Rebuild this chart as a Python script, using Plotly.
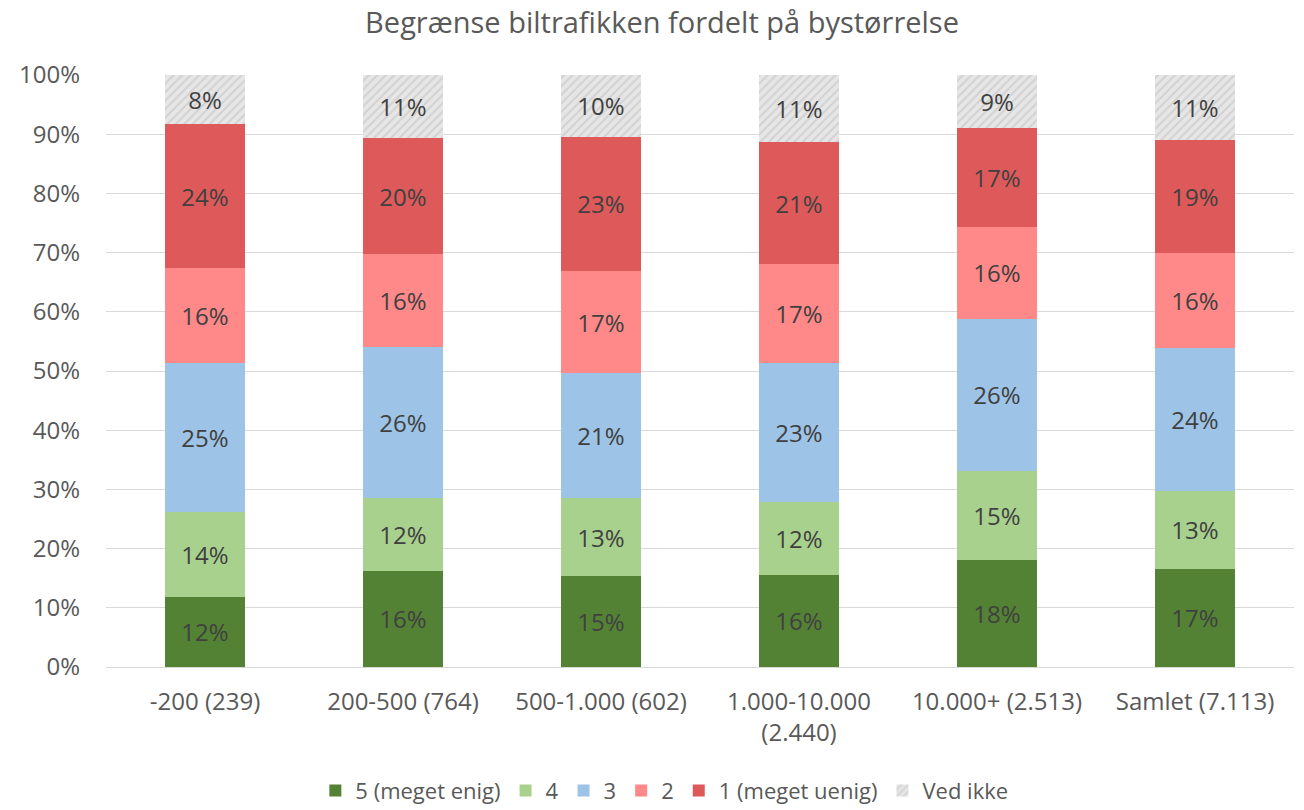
import plotly.graph_objects as go

# Category labels (city size, with respondent counts)
categories = ["-200 (239)", "200-500 (764)", "500-1.000 (602)",
              "1.000-10.000<br>(2.440)", "10.000+ (2.513)", "Samlet (7.113)"]

# Share of respondents per answer, in percent
very_agree = [11.9, 16.3, 15.3, 15.6, 18.0, 16.6]      # 5 (meget enig)
agree = [14.3, 12.2, 13.2, 12.3, 15.1, 13.1]           # 4
neutral = [25.1, 25.6, 21.1, 23.4, 25.7, 24.2]         # 3
disagree = [16.1, 15.6, 17.3, 16.7, 15.6, 16.0]        # 2
very_disagree = [24.3, 19.6, 22.7, 20.6, 16.7, 19.1]   # 1 (meget uenig)
dont_know = [8.3, 10.7, 10.4, 11.4, 8.9, 11.0]         # Ved ikke

series_names = ["5 (meget enig)", "4", "3", "2", "1 (meget uenig)", "Ved ikke"]
series_values = [very_agree, agree, neutral, disagree, very_disagree, dont_know]
series_colors = ["#548235", "#A9D18E", "#9DC3E6", "#FF8989", "#DE5A5A", "#E6E6E6"]

FONT = "Open Sans"
TEXT_COLOR = "#404040"
LABEL_COLOR = "#595959"

fig = go.Figure()
for name, vals, color in zip(series_names, series_values, series_colors):
    marker = dict(color=color, line=dict(width=0))
    if name == "Ved ikke":
        marker["pattern"] = dict(shape="/", bgcolor="#E6E6E6", fgcolor="#BDBDBD",
                                 size=6, solidity=0.35)
    fig.add_trace(go.Bar(
        x=categories, y=vals, name=name, marker=marker,
        texttemplate="%{y:.0f}%", textposition="inside",
        insidetextanchor="middle", textangle=0,
        textfont=dict(family=FONT, size=24, color=TEXT_COLOR),
        hovertemplate="%{x}: %{y:.0f}%<extra>" + name + "</extra>",
    ))

fig.update_layout(
    barmode="stack",
    bargap=0.6,
    width=1304, height=810,
    paper_bgcolor="white", plot_bgcolor="white",
    margin=dict(l=106, r=10, t=75, b=143, autoexpand=False),
    title=dict(text="Begrænse biltrafikken fordelt på bystørrelse",
               x=0.5077, xref="container", xanchor="center",
               y=0.972, yref="container", yanchor="middle",
               font=dict(family=FONT, size=29, color=LABEL_COLOR)),
    font=dict(family=FONT, color=LABEL_COLOR),
    uniformtext=dict(minsize=10, mode="show"),
    legend=dict(orientation="h", x=0.47, xanchor="center",
                y=-0.209, yanchor="middle",
                font=dict(family=FONT, size=22, color=LABEL_COLOR),
                traceorder="normal", itemwidth=30),
    xaxis=dict(showline=True, linecolor="#D9D9D9", linewidth=1,
               ticks="", automargin=False,
               tickfont=dict(family=FONT, size=24, color=LABEL_COLOR),
               ticklabelstandoff=13),
    yaxis=dict(range=[0, 100], dtick=10, ticksuffix="%",
               showgrid=True, gridcolor="#D9D9D9", gridwidth=1,
               zeroline=False, showline=False, automargin=False,
               tickfont=dict(family=FONT, size=24, color=LABEL_COLOR),
               ticklabelstandoff=25),
)

fig.write_html("out.html")
